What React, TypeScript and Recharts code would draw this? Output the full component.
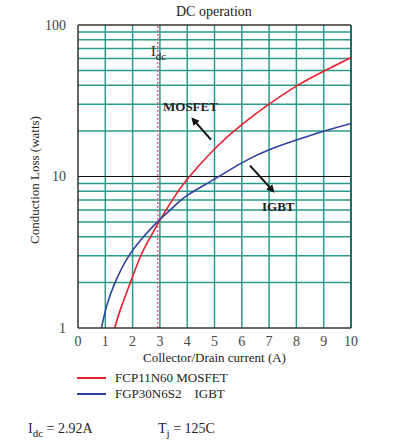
import React from 'react';
import { LineChart, Line, XAxis, YAxis, ReferenceLine } from 'recharts';

// values
const mosfetCurrent = [1.34, 1.6, 1.92, 2.3, 2.66, 2.96, 3.5, 4, 5, 6, 7, 8, 9, 10];
const mosfetLoss = [1.0, 1.4, 2.0, 3.0, 4.0, 5.0, 7.2, 9.6, 15.2, 22, 30, 39.5, 49.5, 61];
const igbtCurrent = [0.86, 1.05, 1.36, 1.84, 2.4, 2.9, 3.5, 4, 5, 6, 7, 8, 9, 10];
const igbtLoss = [1.0, 1.4, 2.0, 2.95, 4.0, 5.0, 6.3, 7.5, 9.6, 12.3, 15.0, 17.4, 19.9, 22.4];

const xTicks = [0, 1, 2, 3, 4, 5, 6, 7, 8, 9, 10];
const yTicks = [1, 10, 100];
const xGrid = [1, 2, 3, 4, 5, 6, 7, 8, 9];
const yGrid = [2, 3, 4, 5, 6, 7, 8, 9, 20, 30, 40, 50, 60, 70, 80, 90];
const idc = 2.92;

const mosfetData = mosfetCurrent.map((x, i) => ({ x, y: mosfetLoss[i] }));
const igbtData = igbtCurrent.map((x, i) => ({ x, y: igbtLoss[i] }));

const GRID = '#2a9a8a';
const FONT = '"Liberation Serif", "Times New Roman", serif';

const arrowShape = (p: any) => (
  <line x1={p.x1} y1={p.y1} x2={p.x2} y2={p.y2} stroke="#111" strokeWidth={2} markerEnd="url(#arrowHead)" />
);

const txt = (extra: React.CSSProperties): React.CSSProperties => ({
  position: 'absolute',
  fontFamily: FONT,
  fontSize: 13,
  color: '#222',
  whiteSpace: 'nowrap',
  lineHeight: '14px',
  ...extra,
});

export default function App() {
  return (
    <div style={{ position: 'absolute', left: 0, top: 0, width: 399, height: 445, background: '#fff' }}>
      <svg width={0} height={0} style={{ position: 'absolute' }}>
        <defs>
          <marker id="arrowHead" markerWidth="8" markerHeight="8" refX="6" refY="4" orient="auto" markerUnits="userSpaceOnUse">
            <path d="M0,0 L8,4 L0,8 z" fill="#111" />
          </marker>
        </defs>
      </svg>
      <LineChart width={399} height={445} margin={{ top: 25, right: 48, bottom: 87, left: 0 }}>
        {yGrid.map((v) => (
          <ReferenceLine key={`h${v}`} y={v} stroke={GRID} strokeWidth={1.5} />
        ))}
        {xGrid.map((v) => (
          <ReferenceLine key={`v${v}`} x={v} stroke={GRID} strokeWidth={1.5} />
        ))}
        <ReferenceLine y={10} stroke="#111" strokeWidth={1.2} />
        <ReferenceLine y={100} stroke="#333" strokeWidth={1.5} />
        <ReferenceLine x={10} stroke="#1f6f66" strokeWidth={2} />
        <ReferenceLine x={idc} stroke="#e06a93" strokeWidth={1.5} strokeDasharray="2 2" />
        <XAxis
          type="number"
          dataKey="x"
          domain={[0, 10]}
          ticks={xTicks}
          height={30}
          tickLine={false}
          axisLine={{ stroke: '#333', strokeWidth: 1.5 }}
          tick={{ fontFamily: FONT, fontSize: 14, fill: '#444' }}
          tickMargin={2}
          allowDataOverflow
        />
        <YAxis
          type="number"
          dataKey="y"
          scale="log"
          domain={[1, 100]}
          ticks={yTicks}
          width={78}
          tickLine={false}
          axisLine={{ stroke: '#333', strokeWidth: 1.5 }}
          tick={{ fontFamily: FONT, fontSize: 14, fill: '#444' }}
          tickMargin={6}
          allowDataOverflow
        />
        <Line data={mosfetData} dataKey="y" type="natural" stroke="#e8202e" strokeWidth={1.6} dot={false} isAnimationActive={false} />
        <Line data={igbtData} dataKey="y" type="natural" stroke="#3040a0" strokeWidth={1.6} dot={false} isAnimationActive={false} />
        <ReferenceLine segment={[{ x: 4.87, y: 17.5 }, { x: 4.2, y: 24 }]} shape={arrowShape} ifOverflow="visible" />
        <ReferenceLine segment={[{ x: 6.3, y: 11.8 }, { x: 7.15, y: 8.0 }]} shape={arrowShape} ifOverflow="visible" />
      </LineChart>

      <div style={txt({ left: 176, top: 5, fontSize: 14 })}>DC operation</div>
      <div style={txt({ left: 151, top: 45, fontSize: 14 })}>
        I<sub style={{ fontSize: 11 }}>dc</sub>
      </div>
      <div style={txt({ left: 163, top: 100, fontWeight: 'bold', fontSize: 13 })}>MOSFET</div>
      <div style={txt({ left: 262, top: 200, fontWeight: 'bold', fontSize: 13 })}>IGBT</div>
      <div
        style={txt({
          left: 35,
          top: 180,
          transform: 'translate(-50%, -50%) rotate(-90deg)',
          fontSize: 13,
        })}
      >
        Conduction Loss (watts)
      </div>
      <div style={txt({ left: 143, top: 351, fontSize: 13 })}>Collector/Drain current (A)</div>

      <div style={{ position: 'absolute', left: 77, top: 377, width: 29, height: 2, background: '#e8202e' }} />
      <div style={txt({ left: 115, top: 371, fontSize: 13 })}>FCP11N60 MOSFET</div>
      <div style={{ position: 'absolute', left: 77, top: 393, width: 29, height: 2, background: '#3040a0' }} />
      <div style={txt({ left: 115, top: 387, fontSize: 13 })}>FGP30N6S2&nbsp;&nbsp;&nbsp; IGBT</div>

      <div style={txt({ left: 28, top: 422, fontSize: 14 })}>
        I<sub style={{ fontSize: 11 }}>dc</sub> = 2.92A
      </div>
      <div style={txt({ left: 158, top: 422, fontSize: 14 })}>
        T<sub style={{ fontSize: 11 }}>j</sub> = 125C
      </div>
    </div>
  );
}
